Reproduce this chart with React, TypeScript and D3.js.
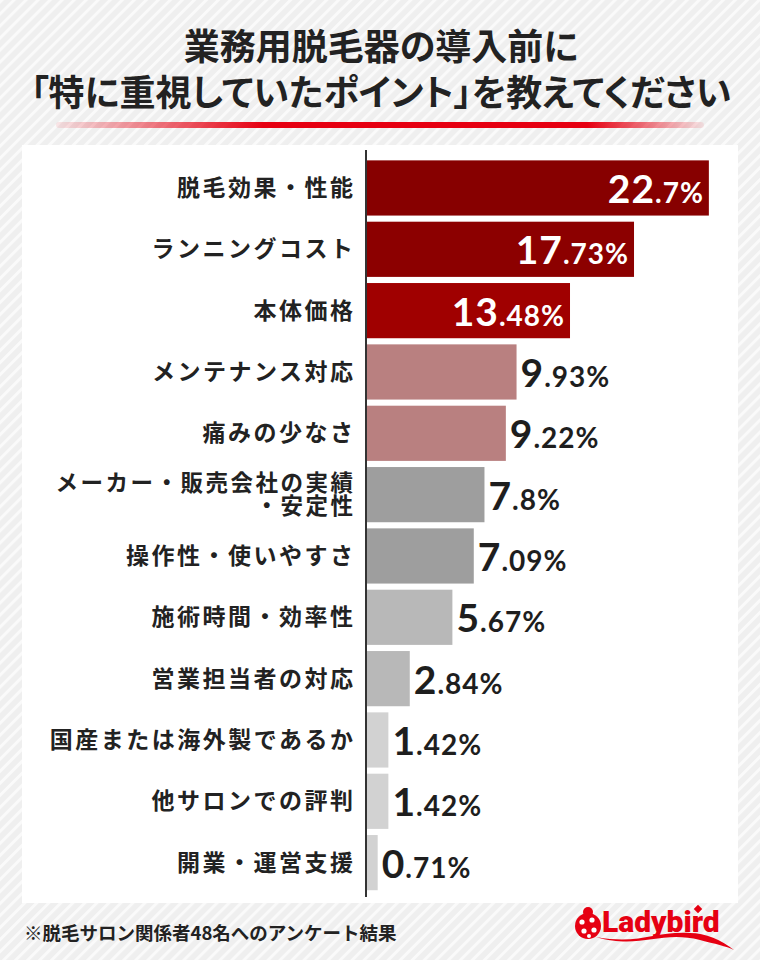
import React, { useEffect } from "react";
import * as d3 from "d3";

const titleLines = ["業務用脱毛器の導入前に", "「特に重視していたポイント」を教えてください"];
const categories = [
  "脱毛効果・性能",
  "ランニングコスト",
  "本体価格",
  "メンテナンス対応",
  "痛みの少なさ",
  "メーカー・販売会社の実績\n・安定性",
  "操作性・使いやすさ",
  "施術時間・効率性",
  "営業担当者の対応",
  "国産または海外製であるか",
  "他サロンでの評判",
  "開業・運営支援",
];
const values = [22.7, 17.73, 13.48, 9.93, 9.22, 7.8, 7.09, 5.67, 2.84, 1.42, 1.42, 0.71];
const barColors = [
  "#870000", "#8c0000", "#a00000",
  "#b98080", "#b98080",
  "#9e9e9e", "#9e9e9e",
  "#b8b8b8", "#b8b8b8",
  "#d2d2d2", "#d2d2d2", "#d2d2d2",
];
const footnote = "※脱毛サロン関係者48名へのアンケート結果";
const brand = "Ladybird";

const W = 760;
const H = 960;
const JP = "'Noto Sans CJK JP', 'Noto Sans', sans-serif";
const NUM = "Lato, 'Noto Sans', sans-serif";

export default function App() {
  useEffect(() => {
    document.body.style.margin = "0";
  }, []);

  const y = d3
    .scaleBand<string>()
    .domain(categories)
    .range([157.3, 893.3])
    .paddingInner(0.1)
    .paddingOuter(0.05);
  const x0 = 367;
  const x = d3.scaleLinear().domain([0, 25]).range([x0, x0 + 25 * 15.06]);

  return (
    <svg width={W} height={H} viewBox={`0 0 ${W} ${H}`} style={{ display: "block" }}>
      <defs>
        <pattern id="stripes" width={8.5} height={8.5} patternUnits="userSpaceOnUse" patternTransform="rotate(45)">
          <rect width={8.5} height={8.5} fill="#efefef" />
          <rect width={3} height={8.5} fill="#fafafa" />
        </pattern>
        <linearGradient id="redline" x1="0" x2="1" y1="0" y2="0">
          <stop offset="0%" stopColor="#e60012" stopOpacity={0.08} />
          <stop offset="32%" stopColor="#e60012" stopOpacity={1} />
          <stop offset="82%" stopColor="#e60012" stopOpacity={1} />
          <stop offset="100%" stopColor="#e60012" stopOpacity={0.08} />
        </linearGradient>
      </defs>
      <rect width={W} height={H} fill="url(#stripes)" />

      {titleLines.map((t, i) => (
        <text
          key={i}
          x={381}
          y={60 + i * 46}
          textAnchor="middle"
          fontFamily={JP}
          fontWeight={700}
          fontSize={36}
          fill="#222"
          style={{ fontFeatureSettings: "'palt'" }}
        >
          {t}
        </text>
      ))}
      <rect x={56} y={122} width={648} height={6} rx={3} fill="url(#redline)" />

      <rect x={22} y={145} width={716} height={758} fill="#ffffff" />

      {categories.map((c, i) => {
        const by = y(c)!;
        const bh = y.bandwidth();
        const cy = by + bh / 2;
        const v = values[i];
        const [ip, dp] = String(v).split(".");
        const inside = i < 3;
        const lines = c.split("\n");
        return (
          <g key={c}>
            <rect x={x(0)} y={by} width={x(v) - x(0)} height={bh} fill={barColors[i]} />
            {lines.map((ln, j) => (
              <text
                key={j}
                x={355.5}
                y={cy + 8 + (j - (lines.length - 1) / 2) * 22.5}
                textAnchor="end"
                fontFamily={JP}
                fontWeight={700}
                fontSize={lines.length > 1 ? 22.5 : 23}
                letterSpacing={2.5}
                fill="#222"
              >
                {ln}
              </text>
            ))}
            <text
              x={inside ? x(v) - 5 : x(v) + 4}
              y={cy + 15}
              textAnchor={inside ? "end" : "start"}
              fontFamily={NUM}
              fontWeight={700}
              letterSpacing={1}
              fill={inside ? "#ffffff" : "#1e1e1e"}
            >
              <tspan fontSize={39}>{ip}</tspan>
              <tspan fontSize={28}>{(dp ? "." + dp : "") + "%"}</tspan>
            </text>
          </g>
        );
      })}
      <line x1={366} x2={366} y1={150} y2={897} stroke="#333" strokeWidth={2} />

      <text x={24} y={940} fontFamily={JP} fontWeight={700} fontSize={18.5} fill="#222">
        {footnote}
      </text>

      <g>
        <path d="M596,937 C640,950 660,930 700,940 C715,944 726,946 734,950 C722,940 705,933 690,933 C655,931 640,945 596,937 Z" fill="#e60012" />
        <circle cx={588} cy={926} r={13} fill="#e60012" />
        <circle cx={588} cy={912} r={5} fill="#e60012" />
        <circle cx={582} cy={922} r={2.6} fill="#fff" />
        <circle cx={592} cy={920} r={2.6} fill="#fff" />
        <circle cx={584} cy={931} r={2.6} fill="#fff" />
        <circle cx={594} cy={930} r={2.6} fill="#fff" />
        <circle cx={589} cy={936} r={2} fill="#fff" />
        <rect x={695} y={906} width={6} height={6} transform="rotate(45 698 909)" fill="#e60012" />
        <text x={602} y={932} fontFamily="Roboto, 'Noto Sans', sans-serif" fontWeight={900} fontSize={30} fill="#e60012">
          {brand}
        </text>
      </g>
    </svg>
  );
}
